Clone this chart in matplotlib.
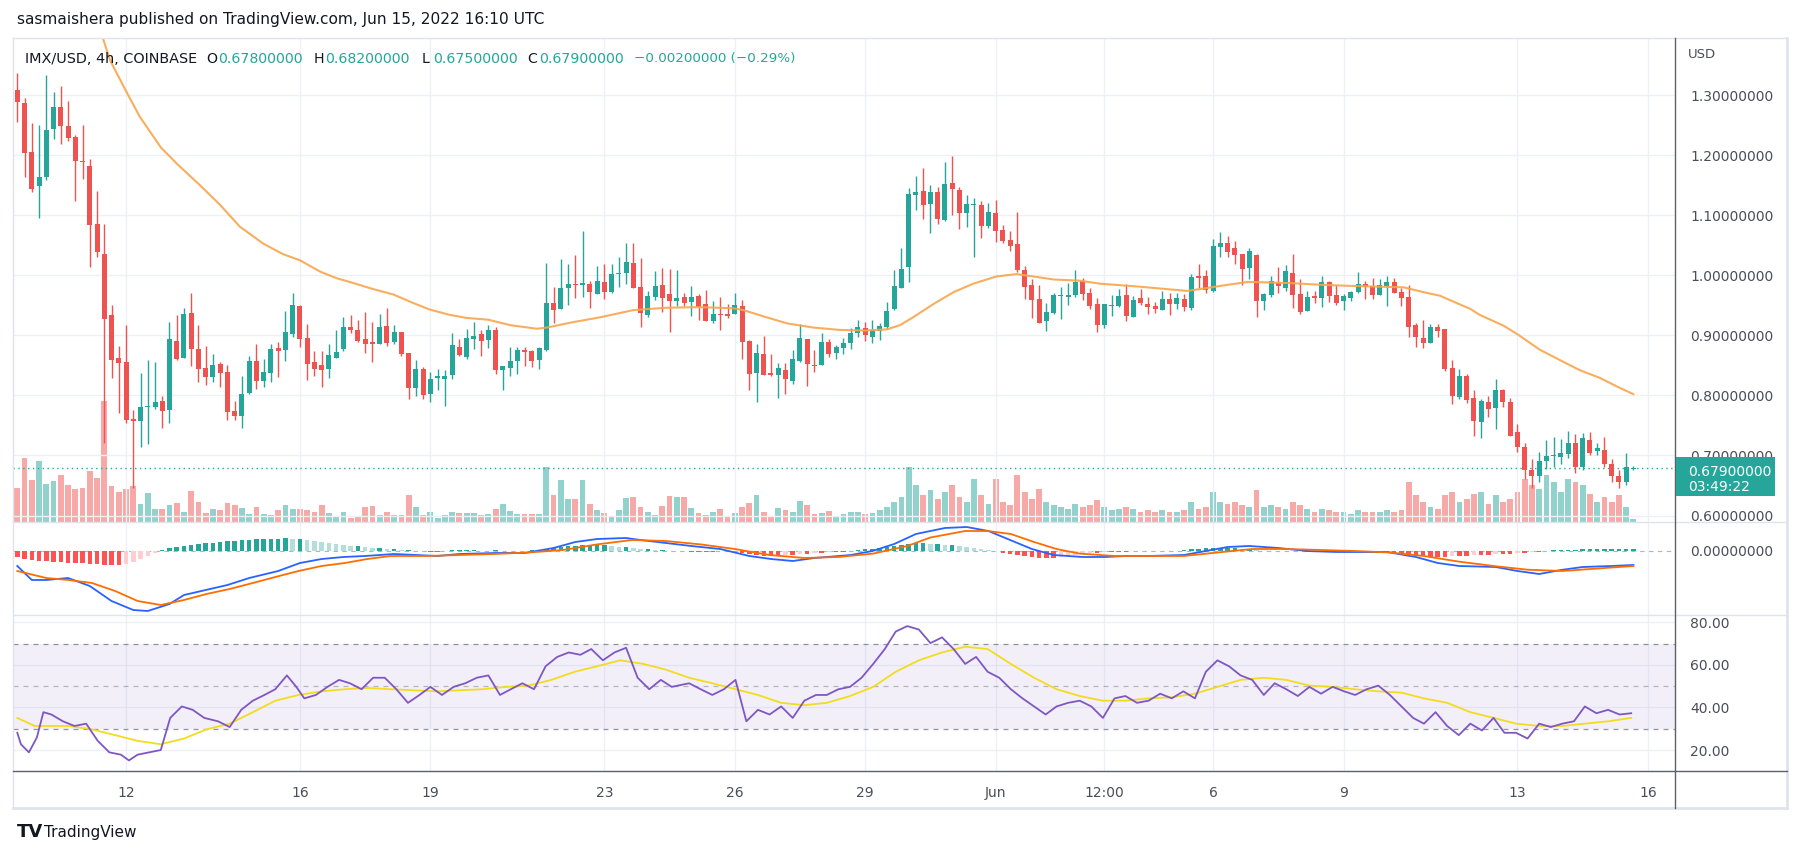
import matplotlib.pyplot as plt
from matplotlib.lines import Line2D
from matplotlib.patches import Rectangle
import numpy as np

plt.rcParams['font.family'] = ['DejaVu Sans']

# ---------------- data (IMX/USD 4h, May 9 12:00 -> Jun 15 16:00) ----------------
opens = [1.309, 1.287, 1.205, 1.149, 1.164, 1.243, 1.281, 1.249, 1.231, 1.191,
         1.182, 1.085, 1.036, 0.934, 0.862, 0.856, 0.761, 0.758, 0.780, 0.781,
         0.791, 0.776, 0.891, 0.863, 0.937, 0.877, 0.846, 0.831, 0.852, 0.839,
         0.774, 0.766, 0.804, 0.857, 0.824, 0.838, 0.879, 0.876, 0.903, 0.949,
         0.896, 0.856, 0.851, 0.844, 0.863, 0.878, 0.914, 0.909, 0.894, 0.889,
         0.886, 0.916, 0.889, 0.906, 0.871, 0.813, 0.844, 0.803, 0.829, 0.828,
         0.834, 0.881, 0.864, 0.894, 0.902, 0.892, 0.909, 0.843, 0.846, 0.858,
         0.876, 0.874, 0.859, 0.876, 0.954, 0.944, 0.979, 0.986, 0.983, 0.986,
         0.969, 0.989, 0.973, 1.002, 1.004, 1.021, 0.981, 0.934, 0.964, 0.984,
         0.969, 0.958, 0.964, 0.956, 0.966, 0.952, 0.924, 0.936, 0.936, 0.936,
         0.949, 0.891, 0.838, 0.869, 0.838, 0.834, 0.842, 0.824, 0.858, 0.894,
         0.851, 0.851, 0.889, 0.871, 0.879, 0.888, 0.904, 0.912, 0.898, 0.907,
         0.914, 0.944, 0.979, 1.013, 1.133, 1.141, 1.119, 1.139, 1.092, 1.154,
         1.142, 1.104, 1.117, 1.117, 1.082, 1.104, 1.076, 1.059, 1.052, 1.009,
         0.984, 0.961, 0.924, 0.937, 0.966, 0.964, 0.967, 0.991, 0.971, 0.952,
         0.917, 0.949, 0.949, 0.967, 0.931, 0.962, 0.952, 0.949, 0.942, 0.961,
         0.952, 0.961, 0.946, 0.999, 0.999, 0.974, 1.047, 1.054, 1.046, 1.036,
         1.012, 1.034, 0.957, 0.967, 0.987, 0.979, 1.004, 0.969, 0.941, 0.964,
         0.962, 0.989, 0.967, 0.957, 0.962, 0.972, 0.986, 0.982, 0.968, 0.982,
         0.989, 0.972, 0.964, 0.917, 0.896, 0.888, 0.914, 0.911, 0.846, 0.798,
         0.832, 0.796, 0.756, 0.789, 0.779, 0.809, 0.789, 0.739, 0.714, 0.675,
         0.665, 0.690, 0.699, 0.698, 0.702, 0.721, 0.680, 0.726, 0.708, 0.709,
         0.685, 0.665, 0.655, 0.678]
highs = [1.336, 1.295, 1.254, 1.251, 1.334, 1.306, 1.316, 1.291, 1.234, 1.251,
         1.193, 1.141, 1.085, 0.951, 0.882, 0.917, 0.776, 0.837, 0.859, 0.856,
         0.799, 0.922, 0.934, 0.946, 0.971, 0.918, 0.882, 0.869, 0.856, 0.851,
         0.791, 0.833, 0.866, 0.886, 0.861, 0.886, 0.889, 0.941, 0.971, 0.951,
         0.919, 0.874, 0.874, 0.886, 0.909, 0.931, 0.934, 0.926, 0.939, 0.922,
         0.936, 0.946, 0.917, 0.906, 0.871, 0.859, 0.847, 0.839, 0.844, 0.842,
         0.904, 0.894, 0.911, 0.922, 0.909, 0.917, 0.914, 0.849, 0.881, 0.881,
         0.881, 0.876, 0.881, 1.021, 0.981, 1.027, 1.019, 1.034, 1.074, 0.991,
         1.016, 1.019, 1.019, 1.031, 1.054, 1.054, 1.029, 0.974, 1.007, 1.012,
         1.011, 1.009, 0.971, 0.982, 0.969, 0.976, 0.957, 0.964, 0.952, 0.971,
         0.959, 0.892, 0.886, 0.899, 0.869, 0.854, 0.854, 0.876, 0.919, 0.894,
         0.876, 0.904, 0.894, 0.884, 0.896, 0.912, 0.926, 0.922, 0.926, 0.921,
         0.956, 1.009, 1.046, 1.146, 1.166, 1.179, 1.151, 1.147, 1.189, 1.199,
         1.147, 1.134, 1.129, 1.124, 1.121, 1.126, 1.084, 1.074, 1.106, 1.016,
         0.994, 0.984, 0.954, 0.971, 0.981, 0.987, 1.009, 0.996, 0.979, 0.962,
         0.953, 0.967, 0.977, 0.986, 0.966, 0.977, 0.964, 0.956, 0.974, 0.971,
         0.971, 0.969, 1.002, 1.019, 1.009, 1.061, 1.072, 1.066, 1.057, 1.036,
         1.046, 1.036, 0.971, 0.999, 1.014, 1.017, 1.036, 0.994, 0.974, 0.974,
         0.999, 0.991, 0.984, 0.969, 0.974, 1.006, 0.991, 0.996, 0.994, 0.999,
         0.996, 0.979, 0.984, 0.921, 0.926, 0.919, 0.919, 0.911, 0.859, 0.844,
         0.836, 0.809, 0.794, 0.799, 0.827, 0.811, 0.796, 0.752, 0.720, 0.694,
         0.706, 0.726, 0.731, 0.728, 0.741, 0.735, 0.738, 0.739, 0.721, 0.731,
         0.694, 0.675, 0.704, 0.682]
lows = [1.256, 1.164, 1.138, 1.096, 1.159, 1.227, 1.218, 1.224, 1.123, 1.160,
        1.013, 1.031, 0.720, 0.829, 0.771, 0.754, 0.645, 0.714, 0.719, 0.777,
        0.746, 0.754, 0.859, 0.862, 0.849, 0.822, 0.818, 0.822, 0.814, 0.759,
        0.759, 0.746, 0.803, 0.811, 0.814, 0.822, 0.831, 0.857, 0.897, 0.881,
        0.826, 0.833, 0.814, 0.829, 0.862, 0.874, 0.904, 0.889, 0.871, 0.856,
        0.886, 0.882, 0.886, 0.866, 0.794, 0.799, 0.794, 0.789, 0.809, 0.783,
        0.828, 0.866, 0.861, 0.878, 0.866, 0.879, 0.836, 0.809, 0.833, 0.836,
        0.849, 0.848, 0.844, 0.874, 0.921, 0.944, 0.951, 0.963, 0.964, 0.946,
        0.969, 0.961, 0.971, 0.981, 0.986, 0.979, 0.914, 0.931, 0.959, 0.939,
        0.906, 0.949, 0.949, 0.933, 0.926, 0.924, 0.921, 0.909, 0.929, 0.935,
        0.861, 0.809, 0.789, 0.834, 0.833, 0.796, 0.803, 0.819, 0.856, 0.816,
        0.839, 0.851, 0.864, 0.861, 0.869, 0.878, 0.898, 0.891, 0.888, 0.893,
        0.911, 0.943, 0.978, 0.988, 1.109, 1.094, 1.071, 1.086, 1.091, 1.101,
        1.077, 1.081, 1.031, 1.062, 1.079, 1.056, 1.054, 1.041, 1.006, 0.961,
        0.929, 0.920, 0.907, 0.936, 0.927, 0.951, 0.964, 0.959, 0.944, 0.906,
        0.912, 0.932, 0.947, 0.924, 0.930, 0.951, 0.936, 0.937, 0.942, 0.934,
        0.944, 0.941, 0.942, 0.979, 0.971, 0.973, 1.031, 1.031, 1.019, 0.984,
        0.994, 0.931, 0.942, 0.964, 0.971, 0.974, 0.946, 0.936, 0.940, 0.954,
        0.947, 0.956, 0.951, 0.942, 0.957, 0.971, 0.961, 0.961, 0.967, 0.949,
        0.971, 0.949, 0.898, 0.881, 0.879, 0.887, 0.898, 0.841, 0.786, 0.794,
        0.788, 0.733, 0.729, 0.764, 0.744, 0.781, 0.732, 0.705, 0.660, 0.645,
        0.655, 0.678, 0.680, 0.685, 0.695, 0.670, 0.675, 0.700, 0.700, 0.680,
        0.655, 0.645, 0.650, 0.675]
closes = [1.288, 1.204, 1.143, 1.164, 1.242, 1.281, 1.248, 1.229, 1.191, 1.188,
          1.083, 1.039, 0.928, 0.859, 0.854, 0.759, 0.757, 0.780, 0.782, 0.789,
          0.774, 0.894, 0.861, 0.936, 0.878, 0.844, 0.831, 0.851, 0.837, 0.773,
          0.766, 0.802, 0.857, 0.824, 0.839, 0.877, 0.874, 0.906, 0.951, 0.894,
          0.853, 0.844, 0.843, 0.867, 0.872, 0.914, 0.909, 0.891, 0.886, 0.885,
          0.914, 0.888, 0.906, 0.869, 0.813, 0.844, 0.800, 0.827, 0.832, 0.832,
          0.884, 0.867, 0.896, 0.899, 0.891, 0.909, 0.843, 0.849, 0.857, 0.876,
          0.873, 0.858, 0.879, 0.954, 0.943, 0.979, 0.986, 0.983, 0.987, 0.973,
          0.991, 0.973, 1.002, 1.004, 1.022, 0.979, 0.938, 0.966, 0.982, 0.963,
          0.958, 0.962, 0.954, 0.964, 0.948, 0.924, 0.936, 0.934, 0.933, 0.951,
          0.889, 0.836, 0.871, 0.834, 0.834, 0.846, 0.828, 0.861, 0.896, 0.853,
          0.849, 0.889, 0.869, 0.881, 0.887, 0.904, 0.914, 0.901, 0.909, 0.916,
          0.941, 0.982, 1.011, 1.136, 1.139, 1.117, 1.139, 1.094, 1.152, 1.144,
          1.104, 1.119, 1.119, 1.082, 1.106, 1.074, 1.057, 1.049, 1.009, 0.981,
          0.959, 0.921, 0.939, 0.967, 0.967, 0.967, 0.989, 0.969, 0.949, 0.917,
          0.952, 0.951, 0.966, 0.932, 0.959, 0.954, 0.947, 0.944, 0.961, 0.952,
          0.962, 0.947, 0.997, 0.996, 0.976, 1.049, 1.054, 1.039, 1.034, 1.011,
          1.041, 0.957, 0.969, 0.991, 0.982, 1.007, 0.967, 0.939, 0.964, 0.963,
          0.989, 0.966, 0.954, 0.966, 0.972, 0.986, 0.981, 0.968, 0.984, 0.989,
          0.971, 0.963, 0.914, 0.898, 0.888, 0.914, 0.908, 0.844, 0.799, 0.832,
          0.793, 0.758, 0.791, 0.778, 0.809, 0.789, 0.733, 0.714, 0.675, 0.665,
          0.690, 0.699, 0.700, 0.704, 0.721, 0.680, 0.729, 0.704, 0.712, 0.685,
          0.665, 0.655, 0.681, 0.679]
volumes = [103, 192, 126, 183, 114, 123, 141, 111, 99, 102,
           153, 132, 363, 108, 90, 99, 108, 54, 87, 39,
           39, 51, 57, 30, 93, 60, 27, 39, 36, 57,
           51, 42, 24, 45, 24, 21, 36, 51, 39, 39,
           36, 30, 51, 27, 15, 30, 12, 18, 45, 48,
           21, 30, 21, 21, 81, 45, 21, 30, 12, 21,
           30, 27, 27, 27, 21, 24, 39, 54, 33, 24,
           24, 24, 24, 165, 81, 126, 69, 69, 126, 54,
           36, 27, 15, 36, 72, 75, 45, 30, 21, 48,
           78, 75, 75, 42, 27, 21, 30, 39, 15, 27,
           45, 57, 81, 30, 18, 42, 36, 30, 63, 51,
           24, 27, 33, 15, 24, 30, 30, 24, 27, 36,
           45, 60, 75, 165, 110, 80, 95, 70, 90, 110,
           75, 60, 130, 80, 55, 130, 60, 50, 140, 90,
           70, 100, 60, 50, 45, 40, 55, 45, 50, 65,
           45, 35, 40, 45, 40, 30, 35, 30, 35, 30,
           30, 35, 60, 40, 45, 90, 60, 55, 60, 50,
           45, 95, 45, 50, 45, 40, 60, 50, 40, 30,
           40, 35, 30, 30, 25, 35, 30, 30, 30, 35,
           30, 35, 120, 80, 60, 45, 40, 80, 90, 60,
           70, 85, 90, 55, 80, 60, 70, 90, 130, 110,
           100, 140, 120, 90, 130, 120, 110, 85, 60, 75,
           60, 80, 45, 10]

# moving average on price (candle index, value)
ma_idx = [11.4, 12.8, 14.9, 16.9, 19.8, 22.0, 25.2, 28.0, 30.7, 33.9, 36.7, 39.0, 41.8, 44.1,
          46.4, 49.1, 51.9, 54.6, 56.9, 59.7, 62.0, 65.0, 68.0, 71.7, 73.1, 76.7, 80.4, 85.0,
          89.6, 94.2, 98.8, 100.2, 103.4, 106.2, 109.8, 113.5, 117.0, 120.0, 121.8, 123.6,
          126.4, 129.2, 131.9, 135.1, 137.9, 140.2, 143.0, 146.6, 149.4, 154.9, 161.4, 163.2,
          166.9, 169.9, 172.9, 175.6, 180.2, 184.8, 191.3, 194.0, 196.3, 198.2, 200.5, 201.8,
          205.1, 207.1, 210.1, 213.8, 215.6, 218.4, 220.7, 223.0]
ma_val = [1.410, 1.358, 1.309, 1.264, 1.213, 1.186, 1.150, 1.117, 1.081, 1.053, 1.035, 1.025,
          1.006, 0.995, 0.987, 0.977, 0.968, 0.954, 0.943, 0.934, 0.929, 0.926, 0.917, 0.911,
          0.913, 0.922, 0.930, 0.942, 0.946, 0.947, 0.945, 0.942, 0.930, 0.920, 0.913, 0.909,
          0.908, 0.910, 0.917, 0.930, 0.952, 0.972, 0.986, 0.998, 1.002, 0.998, 0.993, 0.991,
          0.986, 0.981, 0.974, 0.977, 0.984, 0.989, 0.988, 0.987, 0.984, 0.982, 0.980, 0.972,
          0.966, 0.956, 0.944, 0.934, 0.916, 0.901, 0.876, 0.853, 0.842, 0.829, 0.815, 0.802]

# MACD pane (arbitrary units, 0 = zero line)
macd_idx = [0, 2, 4, 7, 10, 13, 16, 18, 21, 23, 26, 29, 32, 36, 39, 42, 45, 48, 52, 58, 61,
            66, 70, 74, 77, 80, 84, 86, 93, 97, 101, 104, 107, 110, 115, 118, 121, 124, 128,
            131, 134, 137, 140, 143, 147, 150, 153, 156, 161, 164, 167, 170, 174, 178, 182,
            186, 189, 193, 196, 199, 204, 207, 210, 213, 216, 220, 223]
macd_val = [-15, -29, -29, -27, -35, -50, -59, -60, -53, -44, -39, -34, -27, -20, -12, -8, -6,
            -5, -3, -5, -3, -2, -2, 3, 9, 12, 13, 11, 5, 2, -5, -8, -10, -7, -4, 0, 7, 17, 23,
            24, 20, 11, 2, -4, -6, -6, -5, -5, -4, 0, 4, 5, 3, 0, -1, -1, -1, -6, -12, -15,
            -16, -20, -23, -19, -16, -15, -14]
signal_idx = [0, 4.0, 7.1, 10.3, 13.5, 16.6, 19.8, 23.0, 26.1, 29.3, 32.5, 35.6, 38.8, 42.0,
              45.2, 48.3, 51.5, 56.3, 61.0, 65.8, 70.5, 75.3, 80.0, 84.8, 89.5, 94.3, 99.0,
              103.8, 108.6, 113.3, 118.1, 122.8, 126.0, 130.8, 133.9, 137.1, 140.3, 143.4,
              146.6, 151.4, 156.1, 160.9, 165.6, 170.4, 175.1, 179.9, 184.6, 189.4, 194.1,
              198.9, 203.7, 208.4, 213.2, 217.9, 223]
signal_val = [-20, -27, -29, -32, -40, -50, -54, -49, -43, -38, -32, -26, -20, -15, -12, -8,
              -5, -5, -4, -3, -1.5, 1, 6.6, 11, 10, 6.6, 2, -4, -7, -6, -2.6, 5, 13.5, 20,
              20, 17, 9, 2, -2.6, -5, -5, -5, -1.5, 2, 2, 1, 0, -1.5, -5, -10.6, -15, -18.7,
              -20, -17.6, -15]
hist_val = ([-6, -8, -9, -10, -10, -11, -11, -12, -12, -12, -13, -13, -14, -14, -14, -13]
            + [-11, -8, -5, -2, 1]
            + [3, 4, 5, 6, 7, 8, 8, 9, 10, 10, 11, 11, 12, 12, 12, 12, 13, 12, 12]
            + [11, 10, 9, 8, 7, 6, 5, 5, 4, 3, 3, 2, 2, 1, 1, 0]
            + [0, -1, -1, 0, 1, 1, 1, 1, 0, 0, 1, 0, 0, 0, 0, 1, 1]
            + [2, 3, 4, 5, 5, 6, 6, 6, 6, 5, 4, 4, 3]
            + [2, 2, 1, 1, 0, 0, 0, -1, -1, -1, -1, 0, 0, 0]
            + [-2, -3, -4, -5, -5, -5, -4, -4, -3, -3, -2, -2, -1, -1, -1, 0]
            + [1, 2, 2, 3, 4, 5, 6, 7, 8, 8]
            + [7, 7, 6, 6, 5, 4, 3, 2, 1, 0]
            + [-2, -3, -4, -5, -6, -7, -7, -7, -6, -5, -4, -3, -2, -2]
            + [-1, -1, -1, -1, 0, 0, 0, 0, 0, 0, 0, 1]
            + [2, 2, 3, 3, 3, 3, 3, 2, 2, 1]
            + [0, 0, 0, 0, 0, 0, -1, -1, -1, -1, -1, -1, -1, 0, 0, 0]
            + [-1, -1, -2, -3, -4, -5, -5, -6, -6, -6, -5, -5, -5, -4, -4, -4, -3, -3, -3,
               -2, -2, -1, -1]
            + [0, 1, 1, 1, 1, 2, 2, 2, 2, 2, 2, 2, 2])

# RSI pane
rsi_idx = [0, 0.5, 1.6, 2.7, 3.6, 4.7, 6.3, 7.9, 9.5, 11.1, 12.7, 14.3, 15.4, 16.6, 18.2, 19.8,
           21.1, 22.7, 24.2, 25.8, 27.7, 29.3, 30.9, 32.5, 34.1, 35.6, 37.2, 38.5, 39.6, 41.2,
           42.8, 44.4, 45.9, 47.5, 49.1, 50.7, 52.3, 53.9, 55.5, 57.0, 58.6, 60.2, 61.8, 63.4,
           65.0, 66.6, 68.1, 69.7, 71.3, 72.9, 74.5, 76.1, 77.7, 79.2, 80.8, 82.4, 84.0, 85.6,
           87.2, 88.8, 90.3, 92.7, 94.3, 95.9, 97.5, 99.1, 100.6, 102.2, 103.8, 105.4, 107.0,
           108.6, 110.2, 111.7, 113.3, 114.9, 116.5, 118.1, 119.7, 121.2, 122.8, 124.4, 126.0,
           127.6, 129.2, 130.8, 132.3, 133.9, 135.5, 137.1, 138.7, 140.3, 141.9, 143.4, 145.0,
           146.6, 148.2, 149.8, 151.4, 152.9, 154.5, 156.1, 157.7, 159.3, 160.9, 162.5, 164.0,
           165.6, 167.2, 168.8, 170.4, 172.0, 173.5, 175.1, 176.7, 178.3, 179.9, 181.5, 183.1,
           184.6, 186.2, 187.8, 189.4, 191.0, 192.6, 194.1, 195.7, 197.3, 198.9, 200.5, 202.1,
           203.7, 205.2, 206.8, 208.4, 210.0, 211.6, 213.2, 214.8, 216.3, 217.9, 219.5, 221.1,
           222.7]
rsi_val = [28.1, 22.7, 18.9, 25.9, 37.8, 36.7, 33.5, 31.3, 32.4, 24.3, 18.9, 17.8, 15.1, 17.8,
           18.9, 20.0, 35.1, 40.5, 38.9, 35.1, 33.5, 30.8, 38.9, 43.2, 45.9, 48.6, 55.1, 49.7,
           44.3, 45.9, 49.7, 53.0, 51.4, 48.6, 54.0, 54.0, 48.6, 42.2, 45.9, 49.7, 45.9, 49.7,
           51.4, 54.0, 55.1, 45.9, 48.6, 51.4, 48.6, 59.4, 63.8, 65.9, 64.8, 67.5, 62.2, 65.9,
           68.1, 54.0, 48.6, 53.0, 49.7, 51.4, 48.6, 45.9, 48.6, 53.0, 33.5, 38.9, 36.7, 40.5,
           35.1, 43.2, 45.9, 45.9, 48.6, 49.7, 54.0, 60.5, 67.5, 75.7, 78.3, 76.7, 70.3, 73.0,
           67.5, 60.5, 63.8, 56.8, 54.0, 48.6, 44.3, 40.5, 36.7, 40.5, 42.2, 43.2, 40.5, 35.1,
           44.3, 45.4, 42.2, 43.2, 46.5, 44.3, 47.6, 44.3, 56.8, 62.2, 59.4, 55.1, 53.0, 45.9,
           51.4, 48.6, 45.4, 49.7, 46.5, 49.7, 47.6, 45.9, 48.6, 50.3, 45.9, 40.5, 35.1, 32.4,
           37.8, 31.3, 27.0, 32.4, 29.2, 35.1, 28.1, 28.1, 25.4, 32.4, 30.8, 32.4, 33.5, 40.5,
           37.3, 38.9, 36.7, 37.3]
rsima_idx = [0, 2.4, 7.1, 10.3, 13.5, 16.6, 19.8, 23.0, 26.1, 29.3, 32.5, 35.6, 38.8, 42.0,
             45.2, 48.3, 51.5, 54.7, 57.8, 61.0, 64.2, 67.4, 70.5, 73.7, 76.9, 80.0, 83.2,
             86.4, 89.5, 92.7, 95.9, 99.1, 102.2, 105.4, 108.6, 111.7, 114.9, 118.1, 121.2,
             124.4, 127.6, 130.8, 133.9, 137.1, 140.3, 143.4, 146.6, 149.8, 152.9, 156.1,
             159.3, 162.5, 165.6, 168.8, 172.0, 175.1, 178.3, 181.5, 184.6, 187.8, 191.0,
             194.1, 197.3, 200.5, 203.7, 206.8, 210.0, 213.2, 216.3, 219.5, 222.7]
rsima_val = [35.1, 31.3, 31.3, 29.7, 27.0, 24.3, 22.7, 25.4, 29.7, 32.4, 37.8, 43.2, 45.9,
             47.6, 48.6, 49.2, 48.6, 48.1, 47.6, 48.1, 48.6, 49.7, 50.3, 53.0, 56.8, 59.4,
             62.2, 60.5, 57.8, 54.0, 51.4, 48.6, 45.9, 42.2, 41.1, 42.2, 45.4, 49.7, 56.8,
             62.2, 65.9, 68.6, 67.5, 60.5, 54.0, 48.6, 45.4, 43.2, 43.2, 44.3, 44.8, 46.5,
             49.7, 53.0, 54.0, 53.0, 50.3, 49.7, 48.6, 47.6, 47.0, 44.3, 42.2, 37.8, 35.1,
             32.4, 31.3, 31.3, 32.4, 33.5, 35.1]

date_ticks = [15, 39, 57, 81, 99, 117, 135, 150, 165, 183, 207, 225]
date_labels = ['12', '16', '19', '23', '26', '29', 'Jun', '12:00', '6', '9', '13', '16']
price_ticks = [0.6, 0.7, 0.8, 0.9, 1.0, 1.1, 1.2, 1.3]
rsi_ticks = [20, 40, 60, 80]
last_price = 0.679

# ---------------- style ----------------
UP = '#26a69a'
DOWN = '#ef5350'
GRID = '#edf0f5'
TEXT = '#4a4e59'
BORDER = '#e0e3eb'
AXLINE = '#5d606b'

W, H = 1801, 857
fig = plt.figure(figsize=(W / 100, H / 100), dpi=100)
fig.patch.set_facecolor('white')


def rect(top, bottom, left=12.6, right=1674.7):
    return [left / W, 1 - bottom / H, (right - left) / W, (bottom - top) / H]


ax_p = fig.add_axes(rect(38, 522))
ax_m = fig.add_axes(rect(522, 614.5))
ax_r = fig.add_axes(rect(614.5, 771))

n = len(opens)
x = np.arange(n)
o = np.array(opens)
c = np.array(closes)
colors = [UP if cc >= oo else DOWN for oo, cc in zip(o, c)]

XMIN, XMAX = -0.65, 228.7

# ---- volume (behind candles) ----
ax_v = ax_p.twinx()
ax_v.set_ylim(0, 1452)
ax_v.set_xlim(XMIN, XMAX)
ax_v.axis('off')
vol_colors = ['#92d2cc' if cl == UP else '#f7a9a7' for cl in colors]
ax_v.bar(x, volumes, width=0.8, color=vol_colors, linewidth=0)
ax_v.set_zorder(ax_p.get_zorder() - 1)
ax_p.patch.set_visible(False)

for ax in (ax_p, ax_m, ax_r):
    ax.set_xlim(XMIN, XMAX)
    for s in ax.spines.values():
        s.set_visible(False)
    ax.set_xticks(date_ticks)
    ax.tick_params(axis='x', length=0, labelbottom=False)
    ax.grid(axis='x', color=GRID, lw=1)
    ax.set_axisbelow(True)
    ax.yaxis.tick_right()
    ax.yaxis.set_label_position('right')
    ax.tick_params(axis='y', which='both', left=False, labelleft=False, right=False,
                   labelright=True, length=0, pad=11, labelsize=10, labelcolor=TEXT)

# ---- price pane ----
ax_p.set_ylim(0.5892, 1.3951)
ax_p.set_yticks(price_ticks)
ax_p.set_yticklabels(['%.8f' % t for t in price_ticks])
ax_p.grid(axis='y', color=GRID, lw=1)
ax_p.vlines(x, lows, highs, colors=colors, lw=1.0, zorder=3)
body_bot = np.minimum(o, c)
body_h = np.maximum(np.abs(c - o), 0.0018)
ax_p.bar(x, body_h, bottom=body_bot, width=0.69, color=colors, linewidth=0, zorder=4)
ax_p.plot(ma_idx, ma_val, color='#f9a54b', lw=1.5, alpha=0.9, zorder=5)
ax_p.axhline(last_price, color=UP, lw=1, ls=(0, (1, 2.5)), zorder=2)

# ---- MACD pane ----
ax_m.set_ylim(-63.5, 29)
ax_m.set_yticks([0])
ax_m.set_yticklabels(['0.00000000'])
ax_m.axhline(0, color='#b2b5be', lw=0.8, ls=(0, (4, 4)), zorder=1)
hist_colors = []
prev = 0
for hv in hist_val:
    if hv >= 0:
        hist_colors.append('#26a69a' if hv >= prev else '#b2dfdb')
    else:
        hist_colors.append('#ff5252' if hv <= prev else '#ffcdd2')
    prev = hv
ax_m.bar(x, hist_val, width=0.62, color=hist_colors, linewidth=0, zorder=2)
ax_m.plot(macd_idx, macd_val, color='#2962ff', lw=1.3, zorder=3)
ax_m.plot(signal_idx, signal_val, color='#ff6d00', lw=1.3, zorder=3)

# ---- RSI pane ----
ax_r.set_ylim(10.12, 83.76)
ax_r.set_yticks(rsi_ticks)
ax_r.set_yticklabels(['%.2f' % t for t in rsi_ticks])
ax_r.grid(axis='y', color=GRID, lw=1)
ax_r.axhspan(30, 70, color='#7e57c2', alpha=0.09, lw=0, zorder=1)
for lvl in (70, 50, 30):
    ax_r.axhline(lvl, color='#787b86', lw=0.9, ls=(0, (4, 4)), alpha=0.8 if lvl != 50 else 0.5,
                 zorder=2)
ax_r.plot(rsima_idx, rsima_val, color='#f2dc1e', lw=1.3, zorder=3)
ax_r.plot(rsi_idx, rsi_val, color='#7e57c2', lw=1.3, zorder=4)
ax_r.tick_params(axis='x', labelbottom=True, pad=11, labelsize=10, labelcolor=TEXT)
ax_r.set_xticklabels(date_labels)


# ---- frame lines ----
def hline(y, x0, x1, color, lw=1.0):
    fig.add_artist(Line2D([x0 / W, x1 / W], [1 - y / H, 1 - y / H], color=color, lw=lw))


def vline(xp, y0, y1, color, lw=1.0):
    fig.add_artist(Line2D([xp / W, xp / W], [1 - y0 / H, 1 - y1 / H], color=color, lw=lw))


hline(38, 12.6, 1787, BORDER)
hline(807.5, 12.6, 1787, BORDER, lw=2)
vline(12.6, 38, 807.5, BORDER)
vline(1787, 38, 807.5, BORDER, lw=2)
hline(522, 12.6, 1787, BORDER)
hline(614.5, 12.6, 1787, BORDER)
hline(771, 12.6, 1787, AXLINE)
vline(1674.7, 38, 807.5, AXLINE)


# ---- texts ----
def ftext(xp, yp, s, **kw):
    kw.setdefault('va', 'center')
    kw.setdefault('ha', 'left')
    return fig.text(xp / W, 1 - yp / H, s, **kw)


ftext(17, 19.5, 'sasmaishera published on TradingView.com, Jun 15, 2022 16:10 UTC',
      fontsize=11.1, color='#131722')
ftext(25.3, 58.6, 'IMX/USD, 4h, COINBASE', fontsize=10.4, color='#131722')
hdr = [(206.7, 'O'), (313.6, 'H'), (421.5, 'L'), (527.2, 'C')]
vals = ['%.8f' % opens[-1], '%.8f' % highs[-1], '%.8f' % lows[-1], '%.8f' % closes[-1]]
for (xp, lab), v in zip(hdr, vals):
    ftext(xp, 58.6, lab, fontsize=10.2, color='#131722')
    ftext(xp + 11.5, 58.6, v, fontsize=10.2, color=UP)
ftext(634, 58.6, '\u22120.00200000 (\u22120.29%)', fontsize=9.7, color=UP)
ftext(1688, 55, 'USD', fontsize=9.5, color=TEXT)

fig.add_artist(Rectangle((1676 / W, 1 - 496 / H), 99 / W, 39 / H, transform=fig.transFigure,
                         facecolor=UP, edgecolor='none', zorder=10))
ftext(1688, 472.5, '0.67900000', fontsize=10, color='white', zorder=11)
ftext(1688, 487, '03:49:22', fontsize=10, color='white', zorder=11)

ftext(17, 831.6, 'TV', fontsize=13, fontweight='bold', color='#131722')
ftext(44, 832, 'TradingView', fontsize=11, color='#131722')

fig.savefig('out.png', dpi=100, facecolor='white')
